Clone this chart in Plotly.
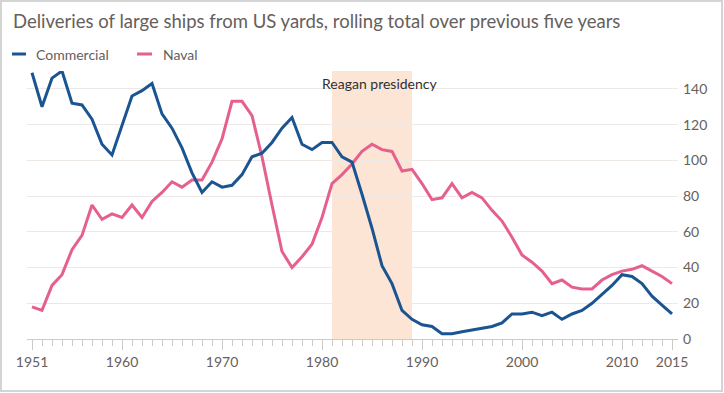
import plotly.graph_objects as go

years = list(range(1951, 2016))
commercial = [149, 130, 146, 150, 132, 131, 123, 109, 103, 120, 136, 139, 143, 126, 118, 107, 93,
              82, 88, 85, 86, 92, 102, 104, 110, 118, 124, 109, 106, 110, 110, 102, 99,
              81, 62, 41, 31, 16, 11, 8, 7, 3, 3, 4, 5, 6, 7, 9, 14,
              14, 15, 13, 15, 11, 14, 16, 20, 25, 30, 36, 35, 31, 24, 19, 14]
naval = [18, 16, 30, 36, 50, 58, 75, 67, 70, 68, 75, 68, 77, 82, 88, 85, 89,
         89, 99, 112, 133, 133, 125, 102, 75, 49, 40, 46, 53, 68, 87, 92, 98,
         105, 109, 106, 105, 94, 95, 87, 78, 79, 87, 79, 82, 79, 72, 66, 57,
         47, 43, 38, 31, 33, 29, 28, 28, 33, 36, 38, 39, 41, 38, 35, 31]
reagan = (1981, 1989)
year_ticks = [1951, 1960, 1970, 1980, 1990, 2000, 2010, 2015]
value_ticks = [0, 20, 40, 60, 80, 100, 120, 140]

BLUE = "#1a5592"
PINK = "#e5608f"
GREY = "#66605c"
FONT = "Lato"

fig = go.Figure()
fig.add_vrect(x0=reagan[0], x1=reagan[1], fillcolor="#fce5d4", line_width=0, layer="below")
fig.add_trace(go.Scatter(x=years, y=naval, mode="lines", name="Naval",
                         line=dict(color=PINK, width=3)))
fig.add_trace(go.Scatter(x=years, y=commercial, mode="lines", name="Commercial",
                         line=dict(color=BLUE, width=3)))

L, R, T, B = 27, 46, 71, 54
W, H = 724, 393
pw, ph = W - L - R, H - T - B

def px(x):
    return (x - L) / pw

def py(y):
    return (H - B - y) / ph

shapes = [
    dict(type="rect", xref="paper", yref="paper", x0=px(1), x1=px(722), y0=py(1), y1=py(391),
         line=dict(color="#d4d4d4", width=2), layer="below"),
    dict(type="line", xref="paper", yref="paper", x0=px(12), x1=px(26), y0=py(54), y1=py(54),
         line=dict(color=BLUE, width=3)),
    dict(type="line", xref="paper", yref="paper", x0=px(137), x1=px(152), y0=py(54), y1=py(54),
         line=dict(color=PINK, width=3)),
]
for s in shapes:
    fig.add_shape(**s)

annotations = [
    dict(text="Deliveries of large ships from US yards, rolling total over previous five years",
         xref="paper", yref="paper", x=px(11), y=py(21), xanchor="left", yanchor="middle",
         showarrow=False, font=dict(family=FONT, size=18.5, color=GREY)),
    dict(text="Commercial", xref="paper", yref="paper", x=px(34), y=py(54), xanchor="left",
         yanchor="middle", showarrow=False, font=dict(family=FONT, size=14, color=GREY)),
    dict(text="Naval", xref="paper", yref="paper", x=px(161), y=py(54), xanchor="left",
         yanchor="middle", showarrow=False, font=dict(family=FONT, size=14, color=GREY)),
    dict(text="Reagan presidency", xref="x", yref="y", x=1985.7, y=142.8, xanchor="center",
         yanchor="middle", showarrow=False, font=dict(family=FONT, size=14, color="#33302e")),
]
for a in annotations:
    fig.add_annotation(**a)

fig.update_layout(
    width=W, height=H, margin=dict(l=L, r=R, t=T, b=B, autoexpand=False),
    paper_bgcolor="white", plot_bgcolor="white", showlegend=False,
    font=dict(family=FONT, size=14, color=GREY),
)
fig.update_xaxes(
    range=[1950.5, 2015.6], tickmode="array", tickvals=year_ticks,
    ticktext=[str(v) for v in year_ticks], ticks="outside", ticklen=10, tickcolor="#cfcac6",
    showline=True, linecolor="#cfcac6", linewidth=1, showgrid=False, zeroline=False,
    tickfont=dict(family=FONT, size=14, color=GREY),
    minor=dict(tickmode="linear", tick0=1951, dtick=1, ticks="outside", ticklen=6,
               tickcolor="#cfcac6", showgrid=False),
)
fig.update_yaxes(
    range=[0, 150], side="right", tickmode="array", tickvals=value_ticks,
    showgrid=True, gridcolor="#efe9e5", gridwidth=1, zeroline=False, ticks="",
    showline=False, ticklabelstandoff=4, tickfont=dict(family=FONT, size=14, color=GREY),
)

fig.write_html("out.html", config={"displayModeBar": False},
               post_script="document.body.style.margin='0';document.body.style.overflow='hidden';")
